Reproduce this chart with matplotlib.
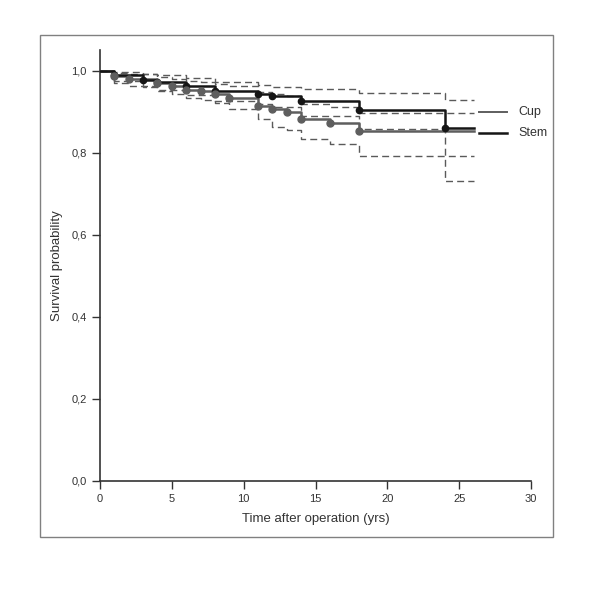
import matplotlib
matplotlib.use('Agg')
import matplotlib.pyplot as plt
from matplotlib.patches import Rectangle

plt.rcParams['font.family'] = ['Liberation Sans', 'DejaVu Sans']

# ── data ──
cup_t = [0, 1, 2, 4, 5, 6, 7, 8, 9, 11, 12, 13, 14, 16, 18, 26]
cup_s = [1.0, 0.987, 0.980, 0.970, 0.962, 0.953, 0.950, 0.943, 0.933,
         0.914, 0.906, 0.899, 0.881, 0.872, 0.852, 0.852]
cup_hi = [1.0, 0.995, 0.992, 0.985, 0.980, 0.975, 0.972, 0.968, 0.962,
          0.948, 0.943, 0.938, 0.918, 0.911, 0.896, 0.896]
cup_lo = [1.0, 0.970, 0.962, 0.950, 0.942, 0.932, 0.928, 0.920, 0.906,
          0.882, 0.862, 0.855, 0.832, 0.820, 0.791, 0.791]

stem_t = [0, 1, 3, 4, 6, 8, 11, 12, 14, 18, 24, 26]
stem_s = [1.0, 0.990, 0.978, 0.972, 0.962, 0.950, 0.944, 0.937, 0.926,
          0.904, 0.860, 0.860]
stem_hi = [1.0, 0.997, 0.992, 0.988, 0.982, 0.972, 0.965, 0.960, 0.955,
           0.945, 0.927, 0.927]
stem_lo = [1.0, 0.975, 0.960, 0.952, 0.940, 0.925, 0.918, 0.910, 0.888,
           0.858, 0.732, 0.732]

x_ticks = [0, 5, 10, 15, 20, 25, 30]
y_ticks = [0.0, 0.2, 0.4, 0.6, 0.8, 1.0]
y_labels = ['0,0', '0,2', '0,4', '0,6', '0,8', '1,0']

CUP_C = '#5e5e5e'
STEM_C = '#151515'
DASH_C = '#5a5a5a'

fig = plt.figure(figsize=(6.0, 5.89), dpi=100)
ax = fig.add_axes([100/600, 108/589, 431/600, 431/589])

# outer frame
fig.patches.append(Rectangle((40/600, 52/589), 513/600, 502/589,
                             transform=fig.transFigure, fill=False,
                             edgecolor='#808080', lw=1.0))

# confidence bands
for t, v in [(cup_t, cup_hi), (cup_t, cup_lo), (stem_t, stem_hi), (stem_t, stem_lo)]:
    ax.step(t, v, where='post', color=DASH_C, lw=1.0, ls=(0, (5, 3)), zorder=2)

# survival curves
ax.step(cup_t, cup_s, where='post', color=CUP_C, lw=1.8, zorder=3)
ax.step(stem_t, stem_s, where='post', color=STEM_C, lw=1.8, zorder=4)
ax.plot(stem_t[1:-1], stem_s[1:-1], 'o', color=STEM_C, ms=4.5, zorder=5)
ax.plot(cup_t[1:-1], cup_s[1:-1], 'o', color=CUP_C, ms=5, zorder=6)

# legend drawn by hand next to curve ends
ax.plot([26.4, 28.3], [0.900, 0.900], color=CUP_C, lw=1.4, clip_on=False)
ax.plot([26.4, 28.3], [0.847, 0.847], color=STEM_C, lw=1.8, clip_on=False)
ax.text(29.1, 0.900, 'Cup', va='center', ha='left', fontsize=9, color='#333')
ax.text(29.1, 0.847, 'Stem', va='center', ha='left', fontsize=9, color='#333')

ax.set_xlim(0, 30)
ax.set_ylim(0, 1.05)
ax.set_xticks(x_ticks)
ax.set_yticks(y_ticks)
ax.set_yticklabels(y_labels)
ax.tick_params(labelsize=8, colors='#333', length=6, width=1.0, direction='out')
for s in ['top', 'right']:
    ax.spines[s].set_visible(False)
for s in ['left', 'bottom']:
    ax.spines[s].set_color('#333')
    ax.spines[s].set_linewidth(1.2)

ax.set_xlabel('Time after operation (yrs)', fontsize=9.5, color='#333', labelpad=6)
ax.set_ylabel('Survival probability', fontsize=9.5, color='#333', labelpad=6)

fig.savefig('out.png', dpi=100, facecolor='white')
